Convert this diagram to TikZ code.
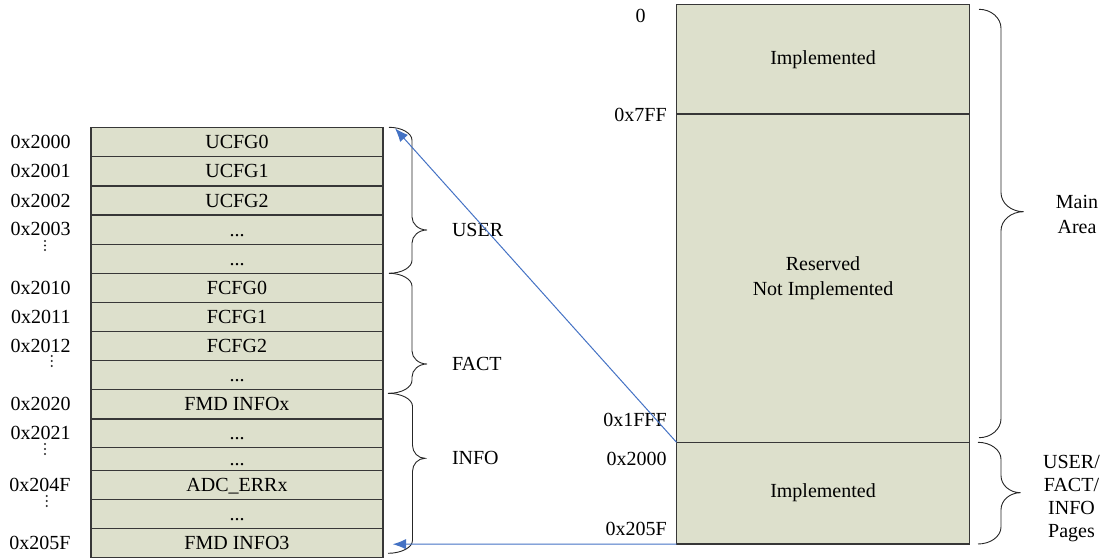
\documentclass[tikz,border=0pt]{standalone}
\usepackage{fontspec}
\setmainfont{Liberation Serif}
\usetikzlibrary{arrows.meta}
\definecolor{cellfill}{RGB}{221,224,204}
\definecolor{cellline}{RGB}{55,55,55}
\definecolor{arrowblue}{RGB}{68,114,196}
\newcommand{\mybrace}[7]{%
  \draw[bracestyle] (#1,#2) .. controls ({#1+0.55*#5},#2) and ({#1+#5},{#2+0.45*#7}) .. ({#1+#5},{#2+#7})
    -- ({#1+#5},{#3-#7}) .. controls ({#1+#5},{#3-0.45*#7}) and ({#1+#5+0.45*#6},#3) .. ({#1+#5+#6},#3)
    .. controls ({#1+#5+0.45*#6},#3) and ({#1+#5},{#3+0.45*#7}) .. ({#1+#5},{#3+#7})
    -- ({#1+#5},{#4-#7}) .. controls ({#1+#5},{#4-0.45*#7}) and ({#1+0.55*#5},#4) .. (#1,#4);}
\newcommand{\memrow}[4]{\node[cell, minimum height={#3-#2}] (#1) at (237,{(#2+#3)/2}) {#4};}
\newcommand{\vdotsat}[4]{\fill[black!85] (#1,#2) circle (1.1) (#1,#3) circle (1.1) (#1,#4) circle (1.1);}
\tikzset{
  txt/.style={font=\fontsize{20}{24}\selectfont, inner sep=0pt, outer sep=0pt},
  cell/.style={txt, draw=cellline, line width=1.1pt, fill=cellfill, minimum width=292pt,
    text height=13.2pt, text depth=0pt, anchor=center},
  bigcell/.style={txt, draw=cellline, line width=1.1pt, fill=cellfill, minimum width=293pt, align=center,
    font=\fontsize{20}{25}\selectfont},
  addr/.style={txt, anchor=east},
  bracestyle/.style={draw=black!85, line width=0.9pt},
  link/.style={draw=arrowblue, line width=1pt, -{Latex[length=13.5pt,width=10.5pt]}},
}
\begin{document}
\begin{tikzpicture}[x=1pt,y=-1pt]
\useasboundingbox (0,0) rectangle (1100,559);
% left table
\memrow{r1}{127.3}{156.7}{UCFG0}
\memrow{r2}{156.7}{186}{UCFG1}
\memrow{r3}{186}{215}{UCFG2}
\memrow{r4}{215}{244.3}{...}
\memrow{r5}{244.3}{273.3}{...}
\memrow{r6}{273.3}{302.7}{FCFG0}
\memrow{r7}{302.7}{331.7}{FCFG1}
\memrow{r8}{331.7}{360.7}{FCFG2}
\memrow{r9}{360.7}{389.3}{...}
\memrow{r10}{389.3}{419}{FMD INFOx}
\memrow{r11}{419}{447.7}{...}
\memrow{r12}{447.7}{470.7}{...}
\memrow{r13}{470.7}{499.3}{ADC\_ERRx}
\memrow{r14}{499.3}{528.3}{...}
\memrow{r15}{528.3}{557.3}{FMD INFO3}
% addresses
\node[addr] (a1) at (70.5,142) {0x2000};
\node[addr] (a2) at (70.5,171.3) {0x2001};
\node[addr] (a3) at (70.5,200.5) {0x2002};
\node[addr] (a4) at (70.5,228.6) {0x2003};
\node[addr] (a6) at (70.5,288) {0x2010};
\node[addr] (a7) at (70.5,317.2) {0x2011};
\node[addr] (a8) at (70.5,346.2) {0x2012};
\node[addr] (a10) at (70.5,404.2) {0x2020};
\node[addr] (a11) at (70.5,433.3) {0x2021};
\node[addr] (a13) at (70.5,485) {0x204F};
\node[addr] (a15) at (70.5,542.8) {0x205F};
\vdotsat{45}{241}{245.5}{250}
\vdotsat{51.7}{356}{361}{366}
\vdotsat{45}{444}{449}{454}
\vdotsat{46.7}{496}{501}{506}
% left braces
\mybrace{389}{127.3}{230}{273.3}{23}{15}{13}
\mybrace{389}{273.3}{364}{393.3}{23}{15}{13}
\mybrace{388}{393.3}{458.3}{553.3}{24.5}{12.5}{13}
\node[txt, anchor=west] (luser) at (452,230) {USER};
\node[txt, anchor=west] (lfact) at (452,364) {FACT};
\node[txt, anchor=west] (linfo) at (452,458.3) {INFO};
% right table
\node[bigcell, minimum height=109.3pt] (impl1) at (823,59.35) {Implemented};
\node[bigcell, minimum height=328.3pt] (resv) at (823,278.15) {Reserved\\Not Implemented};
\node[bigcell, minimum height=101.7pt] (impl2) at (823,493.15) {Implemented};
\node[addr] (b0) at (645.5,15.8) {0};
\node[addr] (b1) at (666.7,115) {0x7FF};
\node[addr] (b2) at (666.7,420) {0x1FFF};
\node[addr] (b3) at (666.7,459) {0x2000};
\node[addr] (b4) at (666.7,529) {0x205F};
% right braces
\mybrace{979}{9.3}{211.7}{437.7}{22}{22.5}{19}
\mybrace{978}{442.3}{492.7}{544}{23}{19.5}{17}
\node[txt, align=center, font=\fontsize{20}{25}\selectfont] (lmain) at (1077,214) {Main\\Area};
\node[txt, align=center, font=\fontsize{20}{23}\selectfont] (lpages) at (1071.5,499) {USER/\\FACT/\\INFO\\Pages};
% connectors
\coordinate (usertip) at (395,128.3);
\coordinate (infotip) at (392.7,544.2);
\draw[link] (impl2.north west) -- (usertip);
\draw[link] (impl2.south west) -- (infotip);
\end{tikzpicture}
\end{document}
